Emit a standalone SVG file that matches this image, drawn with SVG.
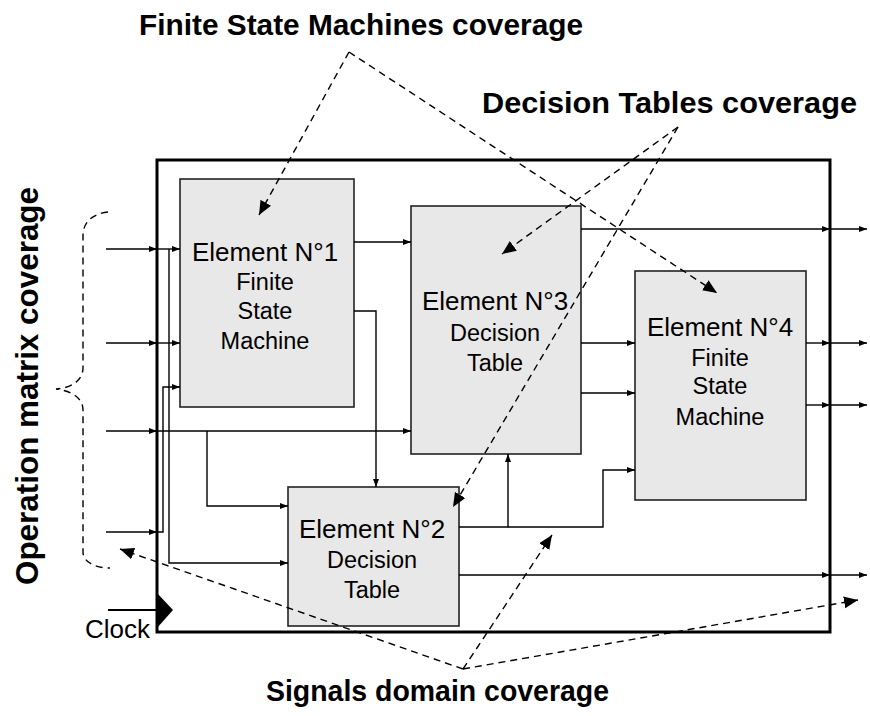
<svg xmlns="http://www.w3.org/2000/svg" width="870" height="716" viewBox="0 0 870 716">
<style>
.box{fill:#e8e8e8;stroke:#222;stroke-width:1.6}
.frame{fill:none;stroke:#000;stroke-width:3}
.wire{fill:none;stroke:#000;stroke-width:1.4}
.dash{fill:none;stroke:#000;stroke-width:1.4;stroke-dasharray:7,5}
.lbl{font-family:"Liberation Sans",Arial,sans-serif;fill:#000;text-anchor:middle}
.big{font-size:26px}
.sub{font-size:23.5px}
.title{font-family:"Liberation Sans",Arial,sans-serif;font-weight:bold;font-size:30px;fill:#000}
</style>
<defs>
<marker id="a" markerUnits="userSpaceOnUse" markerWidth="9" markerHeight="7" refX="8" refY="3" orient="auto"><path d="M0,0 L8,3 L0,6 z" fill="#000"/></marker>
<marker id="d" markerUnits="userSpaceOnUse" markerWidth="15" markerHeight="13" refX="14" refY="6" orient="auto"><path d="M0,0 L14,6 L0,12 z" fill="#000" stroke="none"/></marker>
</defs>
<rect class="frame" x="157" y="160" width="673" height="472"/>
<g id="e1"><rect class="box" x="180" y="179" width="174" height="228"/><text class="lbl big" x="265" y="261">Element N°1</text><text class="lbl sub" x="265" y="290">Finite</text><text class="lbl sub" x="265" y="319">State</text><text class="lbl sub" x="265" y="349">Machine</text></g>
<g id="e3"><rect class="box" x="411" y="206" width="170" height="248"/><text class="lbl big" x="495" y="310">Element N°3</text><text class="lbl sub" x="495" y="341">Decision</text><text class="lbl sub" x="495" y="371">Table</text></g>
<g id="e4"><rect class="box" x="635" y="271" width="171" height="229"/><text class="lbl big" x="720" y="336">Element N°4</text><text class="lbl sub" x="720" y="366">Finite</text><text class="lbl sub" x="720" y="394">State</text><text class="lbl sub" x="720" y="425">Machine</text></g>
<g id="e2"><rect class="box" x="288" y="487" width="171" height="139"/><text class="lbl big" x="372" y="538">Element N°2</text><text class="lbl sub" x="372" y="568">Decision</text><text class="lbl sub" x="372" y="598">Table</text></g>
<g id="connectors">
<path class="wire" d="M106,249 H157" marker-end="url(#a)"/><path class="wire" d="M157,249 H180" marker-end="url(#a)"/>
<path class="wire" d="M106,343 H157" marker-end="url(#a)"/><path class="wire" d="M157,343 H180" marker-end="url(#a)"/>
<path class="wire" d="M106,431 H157" marker-end="url(#a)"/><path class="wire" d="M157,431 H411" marker-end="url(#a)"/>
<path class="wire" d="M207,431 V506 H288" marker-end="url(#a)"/>
<path class="wire" d="M106,532 H157" marker-end="url(#a)"/><path class="wire" d="M157,532 H163 V387 H180" marker-end="url(#a)"/>
<path class="wire" d="M169,249 V563 H288" marker-end="url(#a)"/>
<path class="wire" d="M354,242 H411" marker-end="url(#a)"/>
<path class="wire" d="M354,311 H376 V487" marker-end="url(#a)"/>
<path class="wire" d="M581,229 H830" marker-end="url(#a)"/><path class="wire" d="M830,229 H867" marker-end="url(#a)"/>
<path class="wire" d="M581,343 H635" marker-end="url(#a)"/>
<path class="wire" d="M581,393 H635" marker-end="url(#a)"/>
<path class="wire" d="M806,343 H830" marker-end="url(#a)"/><path class="wire" d="M830,343 H867" marker-end="url(#a)"/>
<path class="wire" d="M806,405 H830" marker-end="url(#a)"/><path class="wire" d="M830,405 H867" marker-end="url(#a)"/>
<path class="wire" d="M459,527 H508 V454" marker-end="url(#a)"/>
<path class="wire" d="M508,527 H603 V470 H635" marker-end="url(#a)"/>
<path class="wire" d="M459,575 H830" marker-end="url(#a)"/><path class="wire" d="M830,575 H867" marker-end="url(#a)"/>
<path d="M108,610 H157" fill="none" stroke="#000" stroke-width="2"/>
<polygon points="157,593 173,610 157,628" fill="#000"/>
<path class="dash" d="M349,52 L259,215" marker-end="url(#d)"/>
<path class="dash" d="M349,52 L717,293" marker-end="url(#d)"/>
<path class="dash" d="M678,127 L502,254" marker-end="url(#d)"/>
<path class="dash" d="M678,127 L453,507" marker-end="url(#d)"/>
<path class="dash" d="M463,669 L120,549" marker-end="url(#d)"/>
<path class="dash" d="M463,669 L552,535" marker-end="url(#d)"/>
<path class="dash" d="M463,669 L858,600" marker-end="url(#d)"/>
<path class="dash" d="M108,212 C92,214 83,222 83,236 L83,368 C83,380 72,388 56,389 C72,391 83,398 83,410 L83,552 C83,562 95,568 110,568"/>
</g>
<text class="lbl" x="150" y="638" style="font-size:26px;text-anchor:end">Clock</text>
<text class="title" x="139" y="35" textLength="444" lengthAdjust="spacingAndGlyphs">Finite State Machines coverage</text>
<text class="title" x="482" y="113" textLength="375" lengthAdjust="spacingAndGlyphs">Decision Tables coverage</text>
<text class="title" x="266" y="701" textLength="343" lengthAdjust="spacingAndGlyphs">Signals domain coverage</text>
<text class="title" transform="translate(38,386) rotate(-90)" x="0" y="0" style="text-anchor:middle;font-size:32px" textLength="398" lengthAdjust="spacingAndGlyphs">Operation matrix coverage</text>
</svg>
